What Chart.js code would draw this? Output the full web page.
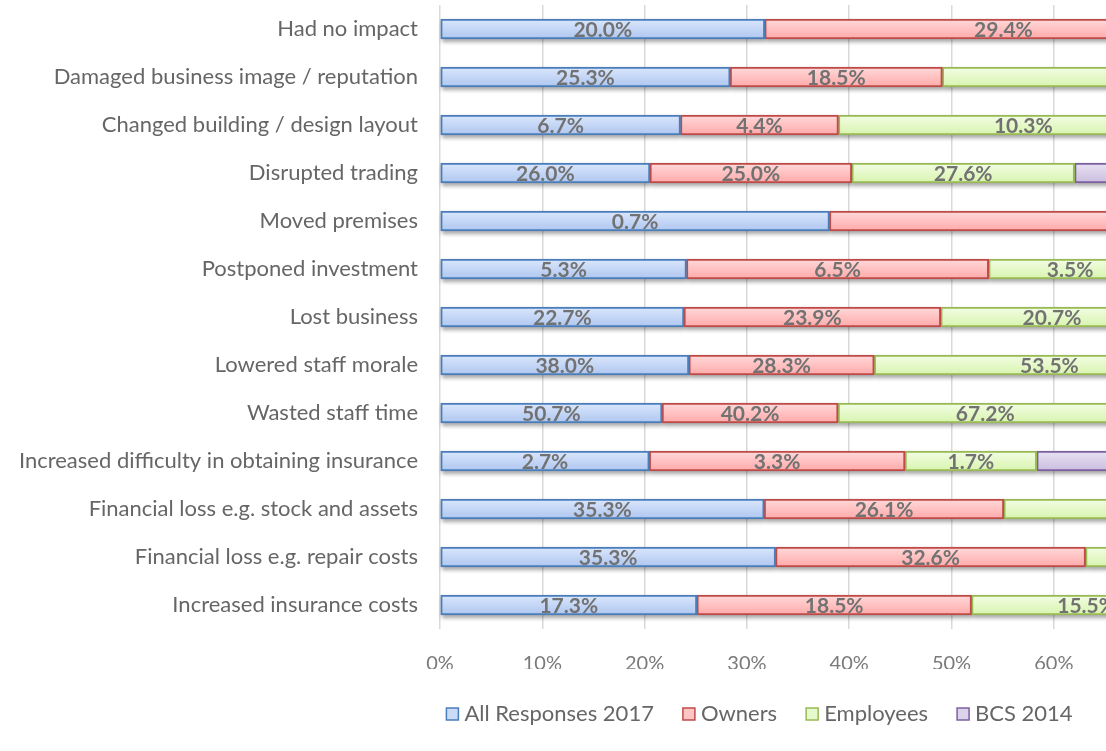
<!DOCTYPE html>
<html>
<head>
<meta charset="utf-8">
<script src="https://cdn.jsdelivr.net/npm/chart.js@4.4.1/dist/chart.umd.min.js"></script>
<style>
  html, body { margin: 0; padding: 0; background: #ffffff; overflow: hidden; }
  #wrap { width: 1524px; height: 751px; }
</style>
</head>
<body>
<div id="wrap"><canvas id="c" width="1524" height="751"></canvas></div>
<script>
// ---- data ----
const categories = [
  'Had no impact',
  'Damaged business image / reputation',
  'Changed building / design layout',
  'Disrupted trading',
  'Moved premises',
  'Postponed investment',
  'Lost business',
  'Lowered staff morale',
  'Wasted staff time',
  'Increased difficulty in obtaining insurance',
  'Financial loss e.g. stock and assets',
  'Financial loss e.g. repair costs',
  'Increased insurance costs'
];
const seriesNames = ['All Responses 2017', 'Owners', 'Employees', 'BCS 2014'];
const allResponses2017 = [20.0, 25.3, 6.7, 26.0, 0.67, 5.3, 22.7, 38.0, 50.7, 2.7, 35.3, 35.3, 17.3];
const owners           = [29.4, 18.5, 4.4, 25.0, 1.09, 6.5, 23.9, 28.3, 40.2, 3.3, 26.1, 32.6, 18.5];
const employees        = [6.9, 36.2, 10.3, 27.6, 0, 3.5, 20.7, 53.5, 67.2, 1.7, 32.8, 25.9, 15.5];
const bcs2014          = [6.7, 9.2, 7.1, 48.1, 0, 6.7, 27.9, 36.4, 75.5, 5.5, 17.2, 13.8, 17.6];
const xTickLabels = ['0%', '10%', '20%', '30%', '40%', '50%', '60%', '70%', '80%', '90%', '100%'];

// ---- styles ----
const styles = [
  { top: '#dbe7fc', bottom: '#aec6ef', border: '#4a7ebb', legend: '#c9dbf7' },
  { top: '#ffdada', bottom: '#ffa9a9', border: '#be4b48', legend: '#ffc4c4' },
  { top: '#f2fde4', bottom: '#d8f4ae', border: '#98b954', legend: '#e6f9cc' },
  { top: '#e9e2f2', bottom: '#cabde0', border: '#7d60a0', legend: '#dcd2ea' }
];
const BAR_H = 20;
const FONT = 'Lato, "Open Sans", sans-serif';

const rawSeries = [allResponses2017, owners, employees, bcs2014];
const rowSums = categories.map((_, i) => rawSeries.reduce((s, arr) => s + arr[i], 0));

function gradFor(st) {
  return function (c) {
    const chart = c.chart;
    const ys = chart.scales ? chart.scales.y : null;
    if (c.type !== 'data' || !ys) return st.legend;
    const cy = ys.getPixelForValue(c.dataIndex);
    if (!isFinite(cy)) return st.legend;
    const g = chart.ctx.createLinearGradient(0, cy - BAR_H / 2, 0, cy + BAR_H / 2);
    g.addColorStop(0, st.top);
    g.addColorStop(1, st.bottom);
    return g;
  };
}

const datasets = rawSeries.map((arr, k) => ({
  label: seriesNames[k],
  data: arr.map((v, i) => v / rowSums[i] * 100),
  raw: arr,
  xAxisID: 'x',
  yAxisID: 'y',
  backgroundColor: gradFor(styles[k]),
  borderColor: styles[k].border,
  borderWidth: 2,
  borderSkipped: false,
  barThickness: BAR_H
}));

const shadowPlugin = {
  id: 'barShadow',
  beforeDatasetsDraw(chart) {
    const ctx = chart.ctx;
    ctx.save();
    ctx.shadowColor = 'rgba(0,0,0,0.35)';
    ctx.shadowBlur = 4;
    ctx.shadowOffsetX = 1;
    ctx.shadowOffsetY = 3;
    ctx.fillStyle = '#bbbbbb';
    chart.data.datasets.forEach((ds, k) => {
      chart.getDatasetMeta(k).data.forEach((el) => {
        const p = el.getProps(['x', 'y', 'base', 'height'], true);
        const w = p.x - p.base;
        if (w <= 0.5) return;
        ctx.fillRect(p.base, p.y - p.height / 2, w, p.height);
      });
    });
    ctx.restore();
  }
};

const labelPlugin = {
  id: 'segLabels',
  afterDatasetsDraw(chart) {
    const ctx = chart.ctx;
    ctx.save();
    ctx.font = 'bold 21px ' + FONT;
    ctx.fillStyle = '#727272';
    ctx.textAlign = 'center';
    ctx.textBaseline = 'middle';
    chart.data.datasets.forEach((ds, k) => {
      chart.getDatasetMeta(k).data.forEach((el, i) => {
        const v = ds.raw[i];
        if (!v) return;
        const p = el.getProps(['x', 'y', 'base'], true);
        ctx.fillText(v.toFixed(1) + '%', (p.x + p.base) / 2, p.y + 1);
      });
    });
    ctx.restore();
  }
};

const chart = new Chart(document.getElementById('c'), {
  type: 'bar',
  data: { labels: categories, datasets },
  options: {
    indexAxis: 'y',
    responsive: false,
    animation: false,
    layout: { padding: { top: 5, left: 0, right: 0, bottom: 16 } },
    scales: {
      x: {
        stacked: true,
        min: 0,
        max: 100,
        ticks: {
          stepSize: 10,
          padding: 23,
          color: '#7a7a7a',
          font: { family: FONT, size: 20 },
          callback: (v, i) => xTickLabels[i]
        },
        grid: { color: '#d9d9d9', lineWidth: 1.5, drawTicks: false },
        border: { display: false },
        afterFit: (s) => { s.height = 40; }
      },
      y: {
        stacked: true,
        position: 'left',
        ticks: {
          padding: 22,
          color: '#666666',
          font: { family: FONT, size: 22 },
          autoSkip: false
        },
        grid: { display: false, drawTicks: false },
        border: { display: false },
        afterFit: (s) => { s.width = 440; s.paddingTop = 0; s.paddingBottom = 0; }
      },
      yRight: {
        type: 'category',
        position: 'right',
        display: true,
        ticks: { display: false },
        grid: { display: false, drawTicks: false },
        border: { display: false },
        afterFit: (s) => { s.width = 61; s.paddingTop = 0; s.paddingBottom = 0; }
      }
    },
    plugins: {
      tooltip: { enabled: false },
      legend: {
        position: 'bottom',
        labels: {
          usePointStyle: true,
          pointStyle: 'rect',
          boxWidth: 2,
          boxHeight: 12,
          padding: 34,
          color: '#666666',
          font: { family: FONT, size: 22 },
          generateLabels: (ch) => ch.data.datasets.map((ds, k) => ({
            text: ds.label,
            fillStyle: styles[k].legend,
            strokeStyle: styles[k].border,
            lineWidth: 1.5,
            pointStyle: 'rect',
            hidden: false,
            datasetIndex: k,
            fontColor: '#666666'
          }))
        }
      }
    }
  },
  plugins: [shadowPlugin, labelPlugin]
});
</script>
</body>
</html>
